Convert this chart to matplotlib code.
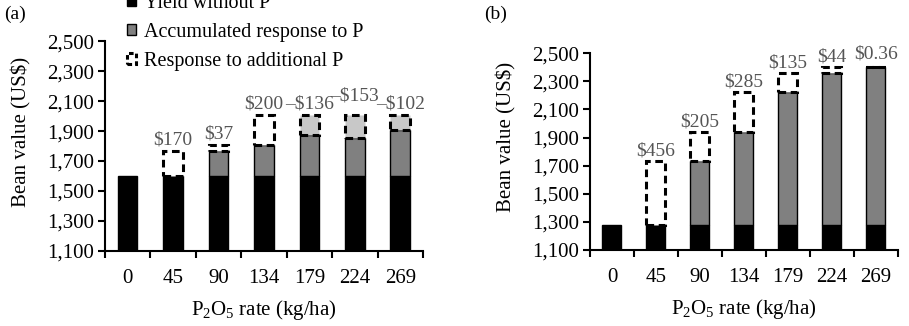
import numpy as np
import matplotlib.pyplot as plt
from matplotlib.patches import Patch

plt.rcParams['font.family'] = ['Liberation Serif', 'DejaVu Serif']
plt.rcParams['mathtext.fontset'] = 'custom'
plt.rcParams['mathtext.rm'] = 'Liberation Serif'
plt.rcParams['mathtext.it'] = 'Liberation Serif:italic'

rates = ['0', '45', '90', '134', '179', '224', '269']

# panel (a)
base_a = 1600
accum_a = [0, 0, 170, 207, 271, 254, 305]          # accumulated response (gray)
add_a = [0, 170, 37, 200, -136, -153, -102]        # response to additional P
labels_a = ['', '$170', '$37', '$200', '\u2013$136', '\u2013$153', '\u2013$102']

# panel (b)
base_b = 1275
accum_b = [0, 0, 456, 661, 946, 1081, 1125]
add_b = [0, 456, 205, 285, 135, 44, 0.36]
labels_b = ['', '$456', '$205', '$285', '$135', '$44', '$0.36']

GRAY = '#808080'
LIGHT = '#c8c8c8'
TXT = '#555555'
W = 0.43
FS = 15


def draw(ax, base, accum, add, labels, lab_raise):
    x = np.arange(len(rates))
    peak = base + np.max(np.array(accum) + np.maximum(np.array(add), 0))
    ax.bar(x, [base - 1100] * len(x), W, bottom=1100, color='black',
           edgecolor='black', lw=1, zorder=2)
    for i in x:
        top = base + accum[i]
        if accum[i] > 0:
            ax.bar(i, accum[i], W, bottom=base, color=GRAY, edgecolor='black',
                   lw=1, zorder=2)
        if add[i] > 0:
            ax.bar(i, add[i], W, bottom=top, color='white', edgecolor='black',
                   lw=2.2, ls=(0, (2.5, 1.5)), zorder=3)
            ytop = top + add[i]
        elif add[i] < 0:
            ax.bar(i, -add[i], W, bottom=peak + add[i], color=LIGHT,
                   edgecolor='black', lw=2.2, ls=(0, (2.5, 1.5)), zorder=3)
            ytop = peak
        else:
            continue
        if labels[i]:
            ax.annotate(labels[i], (i, ytop), xytext=(0, 1.5 + lab_raise[i]),
                        textcoords='offset points', ha='center', va='bottom',
                        fontsize=14, color=TXT)

    ax.set_xlim(-0.5, 6.5)
    ax.set_ylim(1100, 2500)
    ax.set_yticks(np.arange(1100, 2501, 200))
    ax.set_yticklabels([f'{v:,}' for v in range(1100, 2501, 200)])
    ax.set_xticks(x)
    ax.set_xticklabels(rates)
    ax.set_xticks(np.arange(-0.5, 7, 1), minor=True)
    ax.tick_params(axis='x', which='major', length=0, pad=13, labelsize=FS)
    ax.tick_params(axis='x', which='minor', length=5, width=1.5)
    ax.tick_params(axis='y', length=5, width=1.5, labelsize=FS, pad=3)
    for s in ['top', 'right']:
        ax.spines[s].set_visible(False)
    for s in ['left', 'bottom']:
        ax.spines[s].set_linewidth(1.5)
    ax.set_xlabel('P$_2$O$_5$ rate (kg/ha)', fontsize=FS, labelpad=7)
    ax.set_ylabel('Bean value (US$)', fontsize=FS)


fig = plt.figure(figsize=(9.09, 3.26), dpi=100)
ax1 = fig.add_axes([0.1155, 0.230, 0.3498, 0.644])
ax2 = fig.add_axes([0.649, 0.233, 0.3388, 0.604])

draw(ax1, base_a, accum_a, add_a, labels_a, [0, 0, 0, 0, 0, 6, 0])
draw(ax2, base_b, accum_b, add_b, labels_b, [2, 0, 0, 0, 0, 0, 2])
ax1.yaxis.set_label_coords(-0.23, 0.567)
ax2.yaxis.set_label_coords(-0.24, 0.573)

fig.text(0.005, 0.955, '(a)', fontsize=14, va='center')
fig.text(0.533, 0.955, '(b)', fontsize=14, va='center')

handles = [Patch(facecolor='black', edgecolor='black', lw=1),
           Patch(facecolor=GRAY, edgecolor='black', lw=1),
           Patch(facecolor='white', edgecolor='black', lw=2.2, ls=(0, (1.5, 1)))]
fig.legend(handles, ['Yield without P', 'Accumulated response to P',
                     'Response to additional P'],
           loc='lower left', bbox_to_anchor=(0.129, 0.752), frameon=False,
           borderpad=0, fontsize=14.5, handlelength=0.45, handleheight=0.45,
           handletextpad=0.4, labelspacing=0.5)

fig.savefig('out.png', dpi=100)
